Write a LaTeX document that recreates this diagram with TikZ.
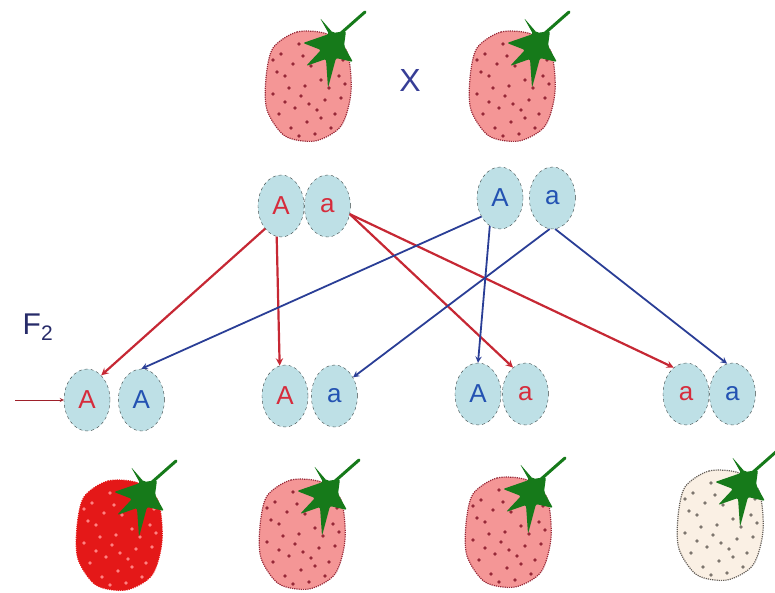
\documentclass[tikz,border=0pt]{standalone}
\usepackage{fontspec}
\setmainfont{Liberation Sans}
\usetikzlibrary{shapes.geometric, arrows, positioning}

\definecolor{berrypink}{RGB}{244,150,150}
\definecolor{berryred}{RGB}{228,24,24}
\definecolor{berrywhite}{RGB}{250,240,228}
\definecolor{seeddark}{RGB}{150,40,55}
\definecolor{seedlight}{RGB}{255,130,130}
\definecolor{seedgrey}{RGB}{125,118,110}
\definecolor{leafgreen}{RGB}{22,122,26}
\definecolor{allelefill}{RGB}{190,224,230}
\definecolor{edgegrey}{RGB}{60,70,70}
\definecolor{domred}{RGB}{214,44,60}
\definecolor{recblue}{RGB}{35,82,178}
\definecolor{crossred}{RGB}{198,40,52}
\definecolor{crossblue}{RGB}{42,62,150}
\definecolor{labelblue}{RGB}{55,62,150}

\tikzset{
  allele/.style={ellipse, draw=edgegrey, dashed, fill=allelefill,
    minimum width=46pt, minimum height=62pt, inner sep=0pt,
    font=\fontsize{26}{26}\selectfont},
  fromred/.style={text=domred},
  fromblue/.style={text=recblue},
  redcross/.style={->, draw=crossred, line width=2.2pt},
  bluecross/.style={->, draw=crossblue, line width=1.8pt},
  % body fill, seed colour, rim colour
  pics/berry/.style n args={3}{code={
    \fill[#1] plot[smooth cycle] coordinates {(-36,-36) (-12,-52) (18,-50) (38,-32)
      (42,8) (32,42) (6,57) (-24,52) (-42,26) (-43,-6)};
    \draw[#3, densely dotted, line width=1.2pt] plot[smooth cycle] coordinates {(-36,-36)
      (-12,-52) (18,-50) (38,-32) (42,8) (32,42) (6,57) (-24,52) (-42,26) (-43,-6)};
    \foreach \sx/\sy in {-28/-30, -10/-40, -32/-12, -16/-20, 2/-18, -36/10, -20/4,
        -4/2, 12/-4, 30/-8, -30/30, -14/24, 0/20, 16/16, 32/14, -18/44, -2/38,
        12/34, 26/30, 6/50, 34/-24, -6/-28, -24/-8, 20/4, -8/12, 8/26, -36/-24,
        -24/18, 22/44, -10/52, 36/0}
      \fill[#2] (\sx,\sy) circle (1.8pt);
    \begin{scope}[shift={(21,-40)}]
      \draw[leafgreen, line width=3pt, line cap=round]
        (10,-10) .. controls (18,-17) and (27,-25) .. (35,-32);
      \fill[leafgreen, rounded corners=2pt] (-10,-26) -- (-1,-10) -- (-27,-1) -- (-9,6)
        -- (-24,22) -- (-4,15) -- (-2,44) -- (6,14) -- (23,18) -- (14,2) -- (16,-13)
        -- (3,-11) -- cycle;
      \fill[leafgreen] (0,2) circle (9pt);
    \end{scope}
  }}
}

\begin{document}
\begin{tikzpicture}[x=1pt, y=-1pt, >=stealth]
  \useasboundingbox (0,0) rectangle (775,593);

  % parents
  \pic at (309,84) {berry={berrypink}{seeddark}{seeddark}};
  \pic at (513,84) {berry={berrypink}{seeddark}{seeddark}};
  \node[text=labelblue, font=\fontsize{32}{32}\selectfont] (cross) at (410,80) {X};

  % parental gametes
  \node[allele, fromred] (pA1) at (281,206) {A};
  \node[allele, fromred] (pa1) [right=0pt of pA1] {a};
  \node[allele, fromblue] (pA2) at (500,198) {A};
  \node[allele, fromblue] (pa2) [right=6pt of pA2] {a};

  % offspring
  \node[text=labelblue!70!black, font=\fontsize{30}{30}\selectfont] (gen) at (38,327)
    {F\textsubscript{2}};
  \node[allele, fromred] (c1A) at (87,400) {A};
  \node[allele, fromblue] (c1B) [right=8pt of c1A] {A};
  \node[allele, fromred] (c2A) at (285,396) {A};
  \node[allele, fromblue] (c2a) [right=3pt of c2A] {a};
  \node[allele, fromblue] (c3A) at (478,394) {A};
  \node[allele, fromred] (c3a) [right=1pt of c3A] {a};
  \node[allele, fromred] (c4a) at (686,394) {a};
  \node[allele, fromblue] (c4b) [right=0pt of c4a] {a};

  \coordinate (mark) at (15,400);
  \draw[->, crossred!80!black, line width=0.8pt] (mark) -- (c1A.west);

  % red parent
  \draw[redcross] (pA1.235) -- (c1A.60);
  \draw[redcross] (pA1.262) -- (c2A.100);
  \draw[redcross] (pa1.340) -- (c3a.115);
  \draw[redcross] (pa1.340) -- (c4a.115);

  % blue parent
  \draw[bluecross] (pA2.225) -- (c1B.north);
  \draw[bluecross] (pA2.250) -- (c3A.north);
  \draw[bluecross] (pa2.265) -- (c2a.45);
  \draw[bluecross] (pa2.275) -- (c4b.100);

  % fruit colours
  \pic at (120,533) {berry={berryred}{seedlight}{berryred}};
  \pic at (303,532) {berry={berrypink}{seeddark}{seeddark}};
  \pic at (509,530) {berry={berrypink}{seeddark}{seeddark}};
  \pic at (721,523) {berry={berrywhite}{seedgrey}{seedgrey!80!black}};
\end{tikzpicture}
\end{document}
